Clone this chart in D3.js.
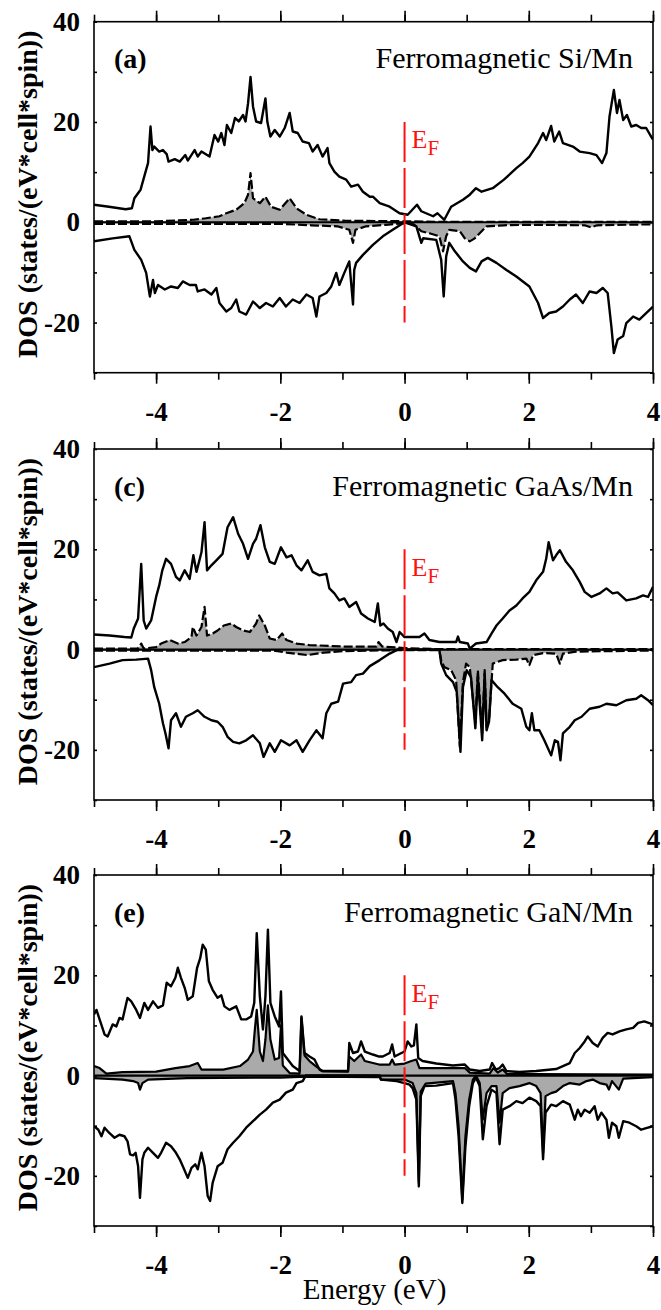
<!DOCTYPE html>
<html>
<head>
<meta charset="utf-8">
<script src="https://cdn.jsdelivr.net/npm/d3@7"></script>
<style>
  html, body { margin: 0; padding: 0; background: #fff; overflow: hidden; }
  svg { display: block; }
  text { font-family: "Liberation Serif", "Times New Roman", serif; }
</style>
</head>
<body>
<svg class="fig"></svg>
<script>
// energy (eV), DOS values
const xMajor = [-4, -2, 0, 2, 4]
const xMinor = [-5, -4, -3, -2, -1, 0, 1, 2, 3, 4]
const yTicks = [-30, -20, -10, 0, 10, 20, 30, 40]
const panelLabels = ['(a)', '(c)', '(e)']
const panelTitles = ['Ferromagnetic Si/Mn', 'Ferromagnetic GaAs/Mn', 'Ferromagnetic GaN/Mn']

// (a) Si/Mn  total spin up / down, Mn part up / down
const siUp = [[-5,3.5],[-4.76,3.1],[-4.49,2.6],[-4.39,2.8],[-4.35,4.8],[-4.25,6.5],[-4.16,10.5],[-4.13,11.8],[-4.09,19.1],[-4.06,14.4],[-4.03,15.1],[-3.95,14.1],[-3.89,14.4],[-3.83,13.6],[-3.8,12.1],[-3.7,12.6],[-3.62,12.1],[-3.53,13.4],[-3.49,12.3],[-3.38,14.4],[-3.33,13.1],[-3.27,14.1],[-3.14,13.1],[-3.06,17.4],[-3,16.1],[-2.95,17.8],[-2.9,15.4],[-2.86,19.4],[-2.79,17.8],[-2.73,20.8],[-2.67,20.1],[-2.6,21.4],[-2.56,20.1],[-2.52,23.7],[-2.48,29],[-2.44,23.1],[-2.39,20.1],[-2.31,19.8],[-2.24,24.7],[-2.21,20.1],[-2.16,17.1],[-2.09,18.4],[-2.01,17.1],[-1.93,18.8],[-1.85,21.8],[-1.8,18.1],[-1.72,17.8],[-1.64,16.1],[-1.54,15.8],[-1.48,14.1],[-1.4,15.4],[-1.32,13.1],[-1.24,14.8],[-1.21,11.8],[-1.13,10.1],[-1.05,9.1],[-0.94,8.5],[-0.86,7.1],[-0.75,7.5],[-0.67,6.1],[-0.56,5.1],[-0.51,5.1],[-0.4,3.8],[-0.24,3.1],[-0.08,1.8],[0.05,1.5],[0.2,3.5],[0.27,2.2],[0.46,1.2],[0.53,1.8],[0.64,0.5],[0.75,3.1],[0.94,4.5],[1.05,5.5],[1.15,6.8],[1.24,6.1],[1.42,6.8],[1.6,8.5],[1.8,10.8],[1.9,11.8],[2.01,13.1],[2.15,15.8],[2.23,17.8],[2.28,16.4],[2.36,19.2],[2.41,16.1],[2.49,18.1],[2.55,15.8],[2.71,15.1],[2.82,14.1],[2.98,13.8],[3.09,13.4],[3.18,11.8],[3.25,13.8],[3.3,21.1],[3.37,26.4],[3.42,21.8],[3.46,24.4],[3.52,20.4],[3.58,21.4],[3.65,19.1],[3.73,19.4],[3.81,18.8],[3.89,18.8],[3.97,17.1],[4,16.5]]
const siDn = [[-5,-3.8],[-4.7,-3.2],[-4.43,-2.8],[-4.35,-5.5],[-4.24,-7.5],[-4.16,-10.1],[-4.1,-14.8],[-4.05,-11.5],[-4.02,-14.1],[-3.97,-12.5],[-3.86,-13.4],[-3.76,-12.8],[-3.65,-13.1],[-3.57,-11.8],[-3.46,-12.5],[-3.36,-12.5],[-3.33,-13.8],[-3.22,-13.4],[-3.11,-14.4],[-3.03,-13.1],[-2.98,-16.1],[-2.87,-17.8],[-2.79,-17.1],[-2.71,-15.4],[-2.66,-17.8],[-2.55,-18.4],[-2.44,-15.8],[-2.33,-17.1],[-2.23,-16.1],[-2.12,-16.8],[-2.01,-15.1],[-1.91,-16.8],[-1.8,-15.4],[-1.69,-16.1],[-1.58,-14.4],[-1.48,-15.1],[-1.42,-18.8],[-1.37,-14.8],[-1.26,-14.1],[-1.18,-12.8],[-1.1,-10.1],[-1.05,-12.5],[-0.97,-10.1],[-0.89,-7.8],[-0.83,-16.4],[-0.81,-9.5],[-0.78,-8.1],[-0.67,-6.5],[-0.51,-4.5],[-0.35,-2.8],[-0.19,-1.5],[0,0],[0.19,-0.8],[0.27,-4.1],[0.3,-3.2],[0.51,-3.5],[0.59,-7.5],[0.63,-14.8],[0.67,-6.8],[0.72,-4.1],[0.81,-5.8],[0.94,-7.8],[1.05,-9.1],[1.15,-9.8],[1.24,-7.8],[1.34,-7.1],[1.48,-8.1],[1.64,-9.5],[1.8,-10.8],[2.01,-12.8],[2.15,-16.1],[2.23,-19.1],[2.33,-18.1],[2.44,-17.8],[2.55,-16.8],[2.66,-15.4],[2.76,-14.4],[2.87,-16.1],[2.98,-13.8],[3.09,-14.1],[3.19,-13.1],[3.27,-14.1],[3.33,-20.8],[3.37,-26.1],[3.43,-23.4],[3.52,-22.7],[3.57,-20.1],[3.68,-18.8],[3.78,-19.4],[3.89,-18.1],[4,-16.8]]
const siMnUp = [[-5,0.2],[-4,0.2],[-3.4,0.5],[-3.2,0.8],[-2.98,1.2],[-2.87,1.8],[-2.71,2.5],[-2.58,3.8],[-2.52,5.5],[-2.48,9.8],[-2.44,4.8],[-2.33,3.8],[-2.24,5.1],[-2.15,3.1],[-2.01,2.5],[-1.85,4.8],[-1.74,2.8],[-1.58,1.5],[-1.37,0.6],[-0.94,0.3],[0,0.2],[0.5,0.1],[4,0.1]]
const siMnDn = [[-5,-0.3],[-2,-0.3],[-1.5,-0.6],[-1.08,-0.8],[-0.89,-1.5],[-0.83,-4.1],[-0.79,-1.5],[-0.62,-0.8],[-0.3,-0.5],[0,-0.2],[0.15,-0.4],[0.27,-1.8],[0.4,-2.2],[0.56,-2.8],[0.62,-5.8],[0.67,-2.8],[0.72,-1.5],[0.89,-1.8],[0.97,-3.2],[1.05,-3.8],[1.13,-3.2],[1.21,-2.2],[1.32,-0.8],[1.6,-0.6],[2,-0.5],[2.9,-0.6],[3,-1],[3.1,-0.6],[4,-0.4]]

// (c) GaAs/Mn
const gaasUp = [[-5,3],[-4.75,2.8],[-4.51,2.5],[-4.4,2.4],[-4.36,4.2],[-4.29,6.2],[-4.24,17.1],[-4.2,5.8],[-4.16,4.2],[-4.08,5.8],[-4,10.5],[-3.95,12.8],[-3.9,15.8],[-3.84,18.1],[-3.76,17.1],[-3.68,14.5],[-3.62,13.8],[-3.54,15.8],[-3.46,14.1],[-3.4,18.8],[-3.35,15.5],[-3.27,19.4],[-3.22,25.4],[-3.18,15.8],[-3.11,16.8],[-3.03,17.8],[-2.93,19.1],[-2.85,24.4],[-2.76,26.4],[-2.68,23.1],[-2.6,21.1],[-2.52,18.1],[-2.44,21.1],[-2.39,22.1],[-2.32,24.8],[-2.25,20.4],[-2.17,17.5],[-2.09,17.1],[-1.99,20.4],[-1.9,18.4],[-1.82,18.8],[-1.74,16.8],[-1.66,15.8],[-1.56,17.8],[-1.48,15.5],[-1.37,14.8],[-1.26,15.1],[-1.21,12.2],[-1.13,11.2],[-1.05,9.8],[-0.97,10.2],[-0.89,8.5],[-0.78,9.5],[-0.7,7.2],[-0.59,6.2],[-0.48,5.5],[-0.43,9.2],[-0.39,4.8],[-0.34,5.2],[-0.27,4.2],[-0.19,3.5],[-0.13,1.5],[-0.08,3.5],[0,2.5],[0.24,2.5],[0.32,3.2],[0.4,1.9],[0.56,1.5],[0.83,1.5],[0.86,2.6],[0.89,1.5],[1.02,1.2],[1.05,0.2],[1.15,1.2],[1.32,1.5],[1.4,3.2],[1.48,4.8],[1.58,6.2],[1.69,7.8],[1.8,8.8],[1.9,10.2],[2.01,11.5],[2.12,13.8],[2.23,15.5],[2.28,18.1],[2.32,21.4],[2.39,17.8],[2.44,18.8],[2.5,19.8],[2.6,17.5],[2.71,15.8],[2.82,13.5],[2.9,11.5],[3.01,10.5],[3.14,11.2],[3.25,12.2],[3.35,11.2],[3.43,11.4],[3.57,9.8],[3.73,10.2],[3.84,10.8],[3.92,10.5],[4,12.5]]
const gaasDn = [[-5,-3.5],[-4.75,-2.8],[-4.54,-2.1],[-4.32,-2],[-4.13,-1.8],[-4.08,-4.1],[-4.03,-7.5],[-3.95,-10.8],[-3.89,-14.7],[-3.85,-16.7],[-3.8,-19.7],[-3.76,-14.1],[-3.68,-12.7],[-3.6,-15.4],[-3.52,-13.4],[-3.41,-12.7],[-3.33,-12.1],[-3.22,-13.4],[-3.11,-14.1],[-3.01,-14.4],[-2.93,-15.4],[-2.85,-17.4],[-2.76,-18.4],[-2.66,-18.7],[-2.55,-18.1],[-2.44,-17.1],[-2.33,-18.7],[-2.27,-21.4],[-2.17,-18.7],[-2.09,-20.4],[-1.99,-18.1],[-1.85,-19.1],[-1.74,-18.1],[-1.64,-20.4],[-1.53,-18.1],[-1.42,-16.1],[-1.32,-17.7],[-1.26,-12.7],[-1.18,-10.8],[-1.07,-10.4],[-0.99,-6.8],[-0.86,-6.5],[-0.78,-5.1],[-0.67,-4.8],[-0.56,-3.3],[-0.4,-2.1],[-0.24,-0.8],[-0.08,0.2],[0,0],[0.56,0],[0.59,-2.8],[0.67,-5.1],[0.78,-6.5],[0.84,-8.4],[0.9,-20.4],[0.94,-7.5],[1,-4.1],[1.07,-5.5],[1.14,-15.7],[1.18,-5.5],[1.25,-18.1],[1.29,-4.8],[1.32,-16.1],[1.36,-14.4],[1.4,-6.1],[1.5,-7.5],[1.61,-8.8],[1.74,-10.8],[1.88,-11.8],[1.96,-15.4],[2.01,-16.1],[2.05,-12.7],[2.09,-16.1],[2.17,-16.1],[2.25,-18.1],[2.36,-21.1],[2.42,-18.1],[2.47,-18.4],[2.51,-22.1],[2.55,-16.7],[2.66,-15.4],[2.74,-14.1],[2.85,-13.4],[2.98,-11.8],[3.14,-11.4],[3.25,-10.8],[3.41,-11.1],[3.57,-10.1],[3.73,-9.8],[3.81,-9.1],[3.92,-10.1],[4,-11.1]]
const gaasMnUp = [[-5,0.2],[-4.3,0.2],[-4.27,0.5],[-4.24,1.2],[-4.2,0.2],[-4,0.5],[-3.92,1.2],[-3.78,1.9],[-3.65,1.2],[-3.54,1.5],[-3.43,2.5],[-3.41,4.5],[-3.35,2.8],[-3.27,4.5],[-3.22,8.5],[-3.18,2.8],[-3.09,3.2],[-3.01,3.8],[-2.91,4.8],[-2.79,5.2],[-2.71,4.5],[-2.6,3.8],[-2.49,3.5],[-2.39,5.2],[-2.34,6.8],[-2.25,4.8],[-2.17,2.2],[-2.06,1.9],[-1.97,3.2],[-1.9,1.9],[-1.74,1.2],[-1.53,0.9],[-0.99,0.6],[-0.45,0.6],[-0.42,1.5],[-0.36,0.6],[0,0.3],[0.5,0.1],[4,0.1]]
const gaasMnDn = [[-5,-0.2],[-2.1,-0.2],[-1.9,-0.6],[-1.56,-1.1],[-1.3,-0.6],[-1,-0.3],[0,-0.1],[0.56,-0.1],[0.59,-2.1],[0.64,-3.5],[0.75,-4.1],[0.83,-6.1],[0.89,-19.4],[0.94,-6.5],[0.99,-2.8],[1.05,-3.5],[1.14,-14.7],[1.18,-4.1],[1.25,-16.7],[1.29,-4.1],[1.32,-15.4],[1.36,-14.1],[1.42,-2.8],[1.58,-2.1],[1.8,-2],[1.96,-1.8],[2.01,-3.1],[2.07,-1.1],[2.23,-0.7],[2.44,-0.8],[2.5,-2.8],[2.55,-0.8],[2.76,-0.4],[4,-0.2]]

// (e) GaN/Mn
const ganUp = [[-5,12.2],[-4.96,13.1],[-4.91,11.2],[-4.83,8.2],[-4.78,7.8],[-4.7,10.2],[-4.64,9.8],[-4.59,11.5],[-4.54,11.2],[-4.46,15.5],[-4.4,14.8],[-4.32,13.1],[-4.26,11.5],[-4.19,14.5],[-4.13,13.1],[-4.05,14.8],[-3.97,13.5],[-3.89,14],[-3.83,18.5],[-3.76,17.8],[-3.69,19.5],[-3.65,21.5],[-3.6,19.5],[-3.54,17.5],[-3.49,15.1],[-3.41,15.8],[-3.34,21.5],[-3.29,23.4],[-3.25,26.1],[-3.2,25.1],[-3.15,18.8],[-3.09,17.1],[-3.01,15.5],[-2.95,16],[-2.9,13.8],[-2.82,13.1],[-2.71,13.8],[-2.63,11.2],[-2.55,11.2],[-2.47,11.8],[-2.42,14.5],[-2.38,28.4],[-2.33,15.8],[-2.28,9.2],[-2.24,15.8],[-2.2,29.1],[-2.16,14.5],[-2.09,11.8],[-2.02,9.8],[-1.99,16.8],[-1.96,4.5],[-1.88,3.2],[-1.8,1.9],[-1.69,0.9],[-1.66,11.8],[-1.61,4.5],[-1.53,3.8],[-1.45,3.2],[-1.37,1.2],[-1.32,0.9],[-0.91,0.9],[-0.89,6.5],[-0.83,4.5],[-0.75,4.8],[-0.7,6.8],[-0.64,4.8],[-0.51,4.2],[-0.41,3.8],[-0.35,3.8],[-0.24,4.5],[-0.2,6.2],[-0.16,3.8],[-0.05,4.5],[0,4.8],[0.05,6.8],[0.11,5.8],[0.15,6],[0.19,10.2],[0.22,3.5],[0.29,2.9],[0.51,2.4],[0.78,2],[0.97,2.2],[1.05,1.2],[1.21,0.9],[1.37,1.2],[1.41,2.5],[1.47,1.2],[1.53,1.5],[1.58,2.2],[1.64,0.9],[1.85,0.7],[2.12,0.9],[2.44,1.3],[2.66,2.5],[2.74,4.5],[2.82,5.5],[2.9,6.8],[2.95,7.8],[3.03,6.5],[3.11,5.8],[3.19,7.5],[3.27,8.5],[3.35,8.2],[3.46,8.8],[3.57,9.2],[3.68,9.5],[3.76,10.5],[3.86,10.8],[4,10.2]]
const ganDn = [[-5,-10.1],[-4.93,-10.8],[-4.88,-12.1],[-4.83,-10.4],[-4.75,-11.5],[-4.67,-12.4],[-4.59,-11.8],[-4.51,-12.1],[-4.46,-13.1],[-4.42,-15.7],[-4.37,-15.9],[-4.33,-15.4],[-4.29,-18.1],[-4.26,-24.4],[-4.22,-16.7],[-4.19,-15.4],[-4.13,-14.4],[-4.05,-15.4],[-3.97,-16.4],[-3.92,-15.4],[-3.84,-13.4],[-3.76,-14.1],[-3.68,-15.4],[-3.62,-16.7],[-3.57,-18.1],[-3.49,-20.4],[-3.43,-18.4],[-3.37,-17.7],[-3.33,-18.7],[-3.27,-15.4],[-3.22,-18.1],[-3.17,-24],[-3.13,-25],[-3.09,-21.4],[-3.01,-18.1],[-2.93,-17.4],[-2.85,-14.7],[-2.76,-13.4],[-2.66,-12.1],[-2.55,-10.4],[-2.44,-9.1],[-2.33,-7.8],[-2.23,-6.8],[-2.12,-5.4],[-2.01,-4.8],[-1.91,-3.4],[-1.8,-2.8],[-1.74,-1.5],[-1.64,-1.1],[-1.59,0],[-0.4,0],[-0.38,-0.8],[-0.13,-1.1],[0,-1.5],[0.08,-1.8],[0.13,-2.5],[0.19,-4.8],[0.23,-22.1],[0.26,-4.1],[0.32,-2.1],[0.51,-2],[0.78,-1.5],[0.82,-4.8],[0.87,-12.1],[0.93,-25.4],[0.98,-14.1],[1.04,-6.1],[1.1,-1.5],[1.15,-0.4],[1.21,-2.1],[1.26,-12.7],[1.32,-6.1],[1.4,-2.8],[1.48,-3.5],[1.53,-13.7],[1.58,-6.8],[1.69,-6.1],[1.8,-5.1],[1.9,-5.5],[2.01,-4.4],[2.12,-5.1],[2.19,-6.1],[2.23,-16.7],[2.27,-7.4],[2.36,-5.8],[2.44,-6.1],[2.55,-5.1],[2.66,-5.8],[2.74,-8.8],[2.79,-6.8],[2.84,-8.1],[2.9,-6.8],[2.98,-7.4],[3.06,-6.1],[3.11,-8.8],[3.17,-7.4],[3.25,-8.8],[3.29,-12.4],[3.34,-9.4],[3.41,-10.1],[3.45,-12.4],[3.52,-9.1],[3.62,-9.4],[3.73,-10.1],[3.81,-10.8],[3.89,-10.5],[4,-10.1]]
const ganMnUp = [[-5,1.9],[-4.91,1.5],[-4.8,0.4],[-4.54,0.7],[-4,0.8],[-3.69,1.5],[-3.46,1.9],[-3.33,2.5],[-3.27,1.2],[-2.92,1.2],[-2.65,1.9],[-2.52,3.2],[-2.44,4.8],[-2.41,9.2],[-2.38,13.1],[-2.33,4.8],[-2.28,2.9],[-2.24,7.2],[-2.2,14],[-2.16,7.2],[-2.09,3.2],[-2.02,3.5],[-1.99,10],[-1.96,2],[-1.85,0.5],[-1.69,0.4],[-1.66,11.5],[-1.61,4],[-1.53,2.9],[-1.43,1.9],[-1.32,0.9],[-0.91,0.8],[-0.89,3.8],[-0.81,2.9],[-0.7,4.2],[-0.64,2.9],[-0.41,2.2],[-0.24,2.2],[-0.2,3.2],[-0.16,2.2],[0,2.4],[0.11,2.9],[0.19,3.2],[0.24,1.5],[0.51,1.5],[0.97,1.5],[1.05,0.6],[1.37,0.4],[1.43,1.5],[1.5,0.6],[1.58,1.2],[1.65,0.3],[2.1,0.3],[4,0.2]]
const ganMnDn = [[-5,-0.5],[-4.54,-0.8],[-4.37,-1.1],[-4.29,-1.5],[-4.26,-2.8],[-4.22,-1.5],[-4.13,-0.8],[-3.5,-0.5],[-2,-0.4],[-1.59,-0.2],[-0.4,-0.3],[-0.38,-0.8],[0,-0.8],[0.13,-1.5],[0.19,-3.5],[0.23,-21.4],[0.26,-3.2],[0.34,-1.6],[0.78,-1.1],[0.82,-3.5],[0.87,-10.1],[0.93,-24.7],[0.98,-12.1],[1.04,-4.8],[1.1,-0.8],[1.15,0],[1.21,-1.5],[1.26,-8.8],[1.32,-3.5],[1.4,-2.1],[1.48,-2.1],[1.53,-9.4],[1.58,-3.5],[1.69,-2.5],[1.85,-2.1],[2.01,-1.5],[2.12,-2.1],[2.19,-3.5],[2.23,-15.4],[2.27,-4.1],[2.36,-3.5],[2.44,-3.2],[2.55,-2.1],[2.66,-1.5],[2.82,-1.8],[2.93,-1.1],[3.03,-0.8],[3.14,-1.5],[3.25,-1.8],[3.29,-2.8],[3.34,-1.1],[3.45,-2.8],[3.52,-0.6],[4,-0.3]]

const svg = d3.select('.fig')
    .attr('width', 661)
    .attr('height', 1310)

const margin = {left: 94, right: 8}
const innerWidth = 661 - margin.left - margin.right
const innerHeight = 351
const panelTops = [21.7, 449, 875]

const xScale = d3.scaleLinear().domain([-5, 4]).range([0, innerWidth])
const yScale = d3.scaleLinear().domain([-30, 40]).range([innerHeight, 0])

const line = d3.line().x(d => xScale(d[0])).y(d => yScale(d[1]))
const area = d3.area().x(d => xScale(d[0])).y0(yScale(0)).y1(d => yScale(d[1]))

const panels = [
    {up: siUp, dn: siDn, mnUp: siMnUp, mnDn: siMnDn, dashed: true},
    {up: gaasUp, dn: gaasDn, mnUp: gaasMnUp, mnDn: gaasMnDn, dashed: true},
    {up: ganUp, dn: ganDn, mnUp: ganMnUp, mnDn: ganMnDn, dashed: false}
]

const styleAxis = (a) => {
    a.select('.domain').remove()
    a.selectAll('line').attr('stroke-width', 1.6)
    a.selectAll('text').filter(function() { return this.textContent === '' }).remove()
    a.attr('font-size', 27).attr('font-weight', 'bold')
     .attr('font-family', '"Liberation Serif", "Times New Roman", serif')
}

panels.forEach((p, i) => {
    const top = panelTops[i]
    const g = svg.append('g')
        .attr('transform', `translate(${margin.left}, ${top})`)

    //clip
    g.append('clipPath').attr('id', 'clip' + i)
        .append('rect').attr('width', innerWidth).attr('height', innerHeight)
    const plot = g.append('g').attr('clip-path', `url(#clip${i})`)

    //gray Mn part
    plot.selectAll('path.fill')
        .data([p.mnUp, p.mnDn])
        .enter().append('path')
        .attr('class', 'fill')
        .attr('d', area)
        .attr('fill', '#aaaaaa')

    //zero line
    plot.append('line')
        .attr('x1', 0).attr('x2', innerWidth)
        .attr('y1', yScale(0)).attr('y2', yScale(0))
        .attr('stroke', '#000').attr('stroke-width', 2.2)

    plot.selectAll('path.mn')
        .data([p.mnUp, p.mnDn])
        .enter().append('path')
        .attr('class', 'mn')
        .attr('d', line)
        .attr('fill', 'none')
        .attr('stroke', '#000')
        .attr('stroke-width', 2.2)
        .attr('stroke-linejoin', 'round')
        .attr('stroke-dasharray', p.dashed ? '9,3' : null)

    plot.selectAll('path.tot')
        .data([p.up, p.dn])
        .enter().append('path')
        .attr('class', 'tot')
        .attr('d', line)
        .attr('fill', 'none')
        .attr('stroke', '#000')
        .attr('stroke-width', 2.4)
        .attr('stroke-linejoin', 'round')

    // Fermi level
    g.append('line')
        .attr('x1', xScale(0)).attr('x2', xScale(0))
        .attr('y1', yScale(20)).attr('y2', yScale(-20))
        .attr('stroke', '#ff1010').attr('stroke-width', 2)
        .attr('stroke-dasharray', '40,6')

    const ef = g.append('text')
        .attr('x', xScale(0) + 7)
        .attr('y', yScale(0) - 74)
        .attr('fill', '#ff1010')
    ef.append('tspan').attr('font-size', 26).text('E')
    ef.append('tspan').attr('font-size', 21).attr('dy', 7).text('F')

    // frame
    g.append('rect')
        .attr('width', innerWidth).attr('height', innerHeight)
        .attr('fill', 'none').attr('stroke', '#000').attr('stroke-width', 1.6)

    //axes
    g.append('g').attr('transform', `translate(0, ${innerHeight})`)
        .call(d3.axisBottom(xScale).tickValues(xMinor).tickSize(7).tickFormat(''))
        .call(styleAxis)
    g.append('g').attr('transform', `translate(0, ${innerHeight})`)
        .call(d3.axisBottom(xScale).tickValues(xMajor).tickSize(11).tickPadding(18).tickFormat(d => String(d)))
        .call(styleAxis)
    g.append('g')
        .call(d3.axisTop(xScale).tickValues(xMinor).tickSize(7).tickFormat(''))
        .call(styleAxis)
    g.append('g')
        .call(d3.axisTop(xScale).tickValues(xMajor).tickSize(11).tickFormat(''))
        .call(styleAxis)
    g.append('g')
        .call(d3.axisLeft(yScale).tickValues(yTicks).tickSize(-3).tickPadding(14)
            .tickFormat(d => d % 20 === 0 ? String(d) : ''))
        .call(styleAxis)
    g.append('g').attr('transform', `translate(${innerWidth}, 0)`)
        .call(d3.axisRight(yScale).tickValues(yTicks).tickSize(-3).tickFormat(''))
        .call(styleAxis)

    // labels
    g.append('text')
        .attr('x', 20).attr('y', 46.5)
        .attr('font-size', 28).attr('font-weight', 'bold')
        .text(panelLabels[i])
    g.append('text')
        .attr('x', 539).attr('y', 46.5)
        .attr('text-anchor', 'end')
        .attr('font-size', 30)
        .text(panelTitles[i])

    svg.append('text')
        .attr('transform', `translate(36.5, ${top + innerHeight / 2 - 3}) rotate(-90)`)
        .attr('text-anchor', 'middle')
        .attr('font-size', 28).attr('font-weight', 'bold')
        .text('DOS (states/(eV*cell*spin))')
})

svg.append('text')
    .attr('x', 374.5).attr('y', 1299)
    .attr('text-anchor', 'middle')
    .attr('font-size', 29)
    .text('Energy (eV)')
</script>
</body>
</html>
